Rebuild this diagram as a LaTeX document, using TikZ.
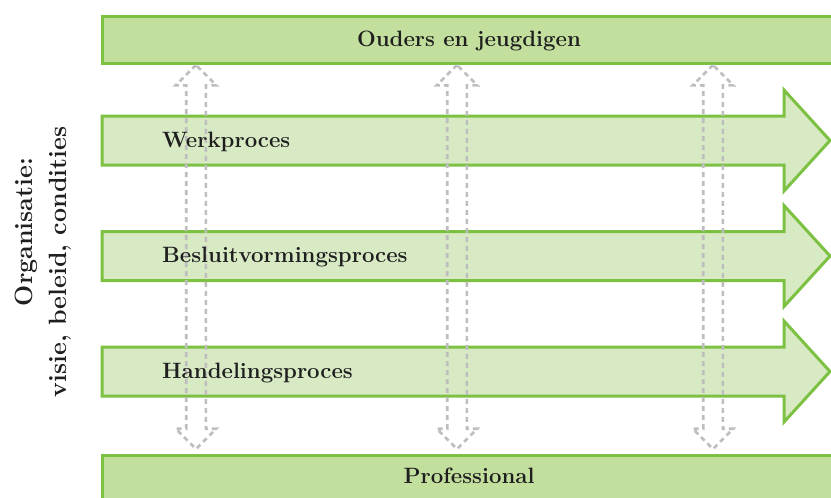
\documentclass[tikz,border=0pt]{standalone}
\usepackage{fontspec}
\usetikzlibrary{shapes.arrows}
\definecolor{leafgreen}{HTML}{7DC143}
\definecolor{bargreen}{HTML}{C3DF9E}
\definecolor{procgreen}{HTML}{D8EAC4}
\definecolor{linkgray}{HTML}{BEBEBE}

\begin{document}
\begin{tikzpicture}[x=1pt,y=-1pt]
  \tikzstyle{bar}=[draw=leafgreen, fill=bargreen, line width=3pt]
  \tikzstyle{procarrow}=[draw=leafgreen, fill=procgreen, line width=3pt, line join=miter]
  \tikzstyle{twoway}=[double arrow, draw=linkgray, dash pattern=on 5pt off 4pt,
line width=2.7pt, rotate=90, inner xsep=0pt, inner ysep=8.5pt,
double arrow head extend=10.5pt, double arrow tip angle=90, minimum height=384pt]
  \tikzstyle{proctext}=[font=\bfseries\fontsize{22.2}{26}\selectfont, text=black!88, inner sep=0pt]
  \tikzstyle{orgtext}=[font=\bfseries\fontsize{25}{30}\selectfont, text=black!88, inner sep=0pt, rotate=90, anchor=base]
  \path[use as bounding box, clip] (0,0) rectangle (831,498);

  % top and bottom bars
  \node[bar, anchor=north west, minimum width=740pt, minimum height=47.5pt] (ouders) at (101,14.5) {};
  \node[bar, anchor=north west, minimum width=740pt, minimum height=60pt] (prof) at (101,454) {};

  % the three processes
  \draw[procarrow] (102,116) -- (784,116) -- (784,90) -- (830,140.5) -- (784,191) -- (784,165) -- (102,165) -- cycle;
  \draw[procarrow] (102,231.5) -- (784,231.5) -- (784,205.5) -- (830,256) -- (784,306.5) -- (784,280.5) -- (102,280.5) -- cycle;
  \draw[procarrow] (102,347) -- (784,347) -- (784,321) -- (830,371.5) -- (784,422) -- (784,396) -- (102,396) -- cycle;

  % links between parents and professional
  \node[twoway] (link1) at (196,257) {};
  \node[twoway] (link2) at (457,257) {};
  \node[twoway] (link3) at (713,257) {};

  \node[proctext, anchor=base] (oudersText) at (469,46) {Ouders en jeugdigen};
  \node[proctext, anchor=base] (profText) at (469,483) {Professional};
  \node[proctext, anchor=base west] (werk) at (162,147) {Werkproces};
  \node[proctext, anchor=base west] (besluit) at (162,262.5) {Besluitvormingsproces};
  \node[proctext, anchor=base west] (handeling) at (162,378) {Handelingsproces};

  \node[orgtext] (orgtitle) at (32,232) {Organisatie:};
  \node[orgtext] (orgsub) at (66.5,262) {visie, beleid, condities};
\end{tikzpicture}
\end{document}
